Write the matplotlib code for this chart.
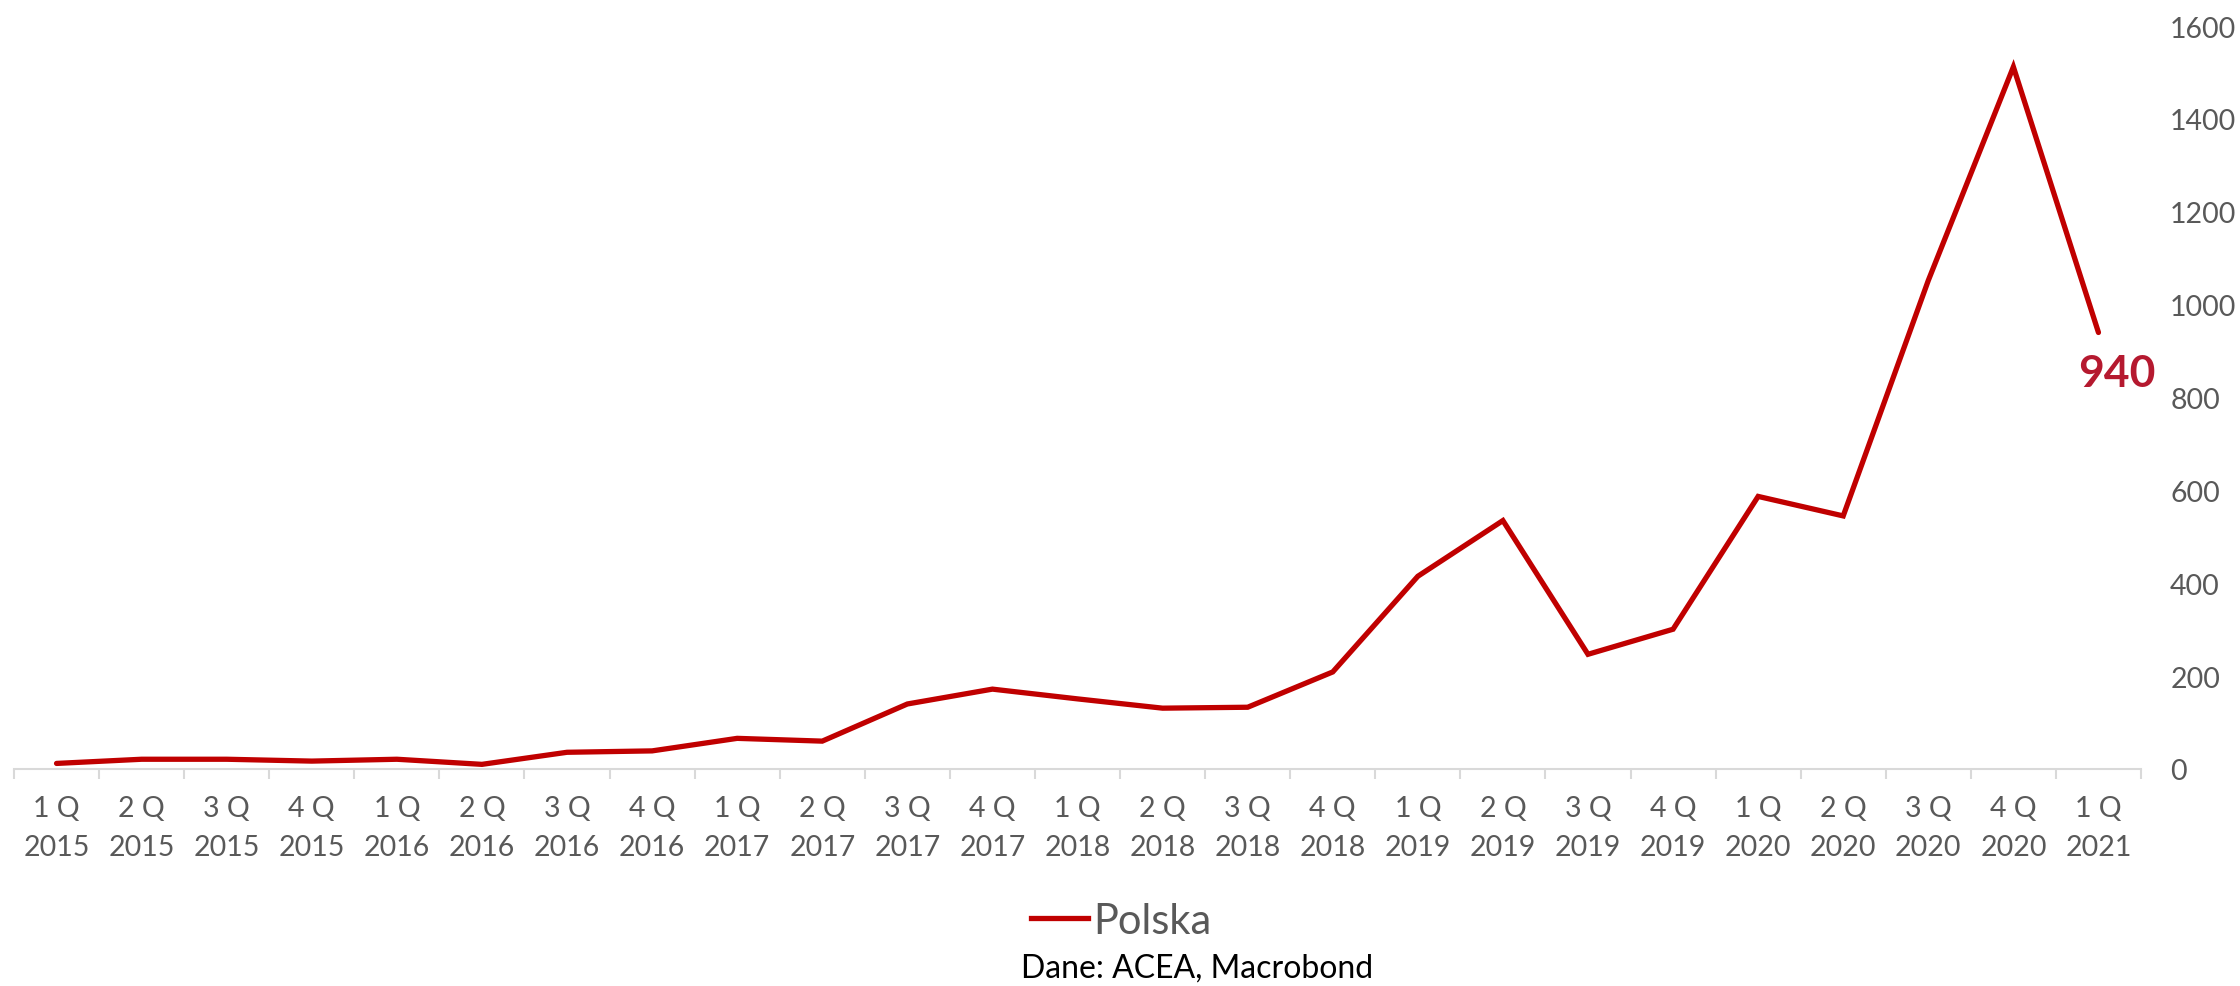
import matplotlib
matplotlib.use("Agg")
import matplotlib.pyplot as plt
from matplotlib.lines import Line2D

quarters = ["1 Q", "2 Q", "3 Q", "4 Q"] * 6 + ["1 Q"]
years = ["2015"] * 4 + ["2016"] * 4 + ["2017"] * 4 + ["2018"] * 4 + ["2019"] * 4 + ["2020"] * 4 + ["2021"]
values = [12, 21, 21, 17, 21, 10, 36, 39, 66, 60, 140, 172, 151, 131, 133,
          209, 415, 535, 247, 301, 587, 545, 1052, 1512, 940]
series_name = "Polska"
last_label = "940"
source = "Dane: ACEA, Macrobond"
yticks = [0, 200, 400, 600, 800, 1000, 1200, 1400, 1600]

plt.rcParams['font.family'] = ['Lato', 'DejaVu Sans']
GRAY = "#595959"
RED = "#C00000"

fig = plt.figure(figsize=(22.4, 9.87), dpi=100)
W, H = 2240, 987
left = 14 / W
right = 2141 / W
bottom = (H - 770) / H
top = (H - 27) / H
ax = fig.add_axes([left, bottom, right - left, top - bottom])

x = list(range(len(values)))
ax.plot(x, values, color=RED, lw=3.8, solid_joinstyle='miter',
        solid_capstyle='round', label=series_name)

ax.set_xlim(-0.5, len(values) - 0.5)
ax.set_ylim(0, 1600)

for s in ['top', 'left', 'right']:
    ax.spines[s].set_visible(False)
ax.spines['bottom'].set_color("#D9D9D9")
ax.spines['bottom'].set_linewidth(1.5)

# major ticks at category boundaries (marks only)
ax.set_xticks([i - 0.5 for i in range(len(values) + 1)])
ax.set_xticklabels([])
ax.tick_params(axis='x', which='major', length=7, width=1.5, color="#D9D9D9", direction='out')
# minor ticks at centers for labels
ax.set_xticks(x, minor=True)
ax.set_xticklabels([f"{q}\n{y}" for q, y in zip(quarters, years)], minor=True,
                   fontsize=20.5, color=GRAY, linespacing=1.6)
ax.tick_params(axis='x', which='minor', length=0, pad=19)

ax.yaxis.tick_right()
ax.set_yticks(yticks)
ax.set_yticklabels([str(v) for v in yticks], fontsize=20.5, color=GRAY, ha='left')
ax.tick_params(axis='y', length=0, pad=21)

# value label below-right of the last point (offset given in pixels)
ax_w_px = (right - left) * W
ax_h_px = (top - bottom) * H
xr = ax.get_xlim()
yr = ax.get_ylim()
dx = 18 * (xr[1] - xr[0]) / ax_w_px
dy = 41 * (yr[1] - yr[0]) / ax_h_px
ax.text(x[-1] + dx, values[-1] - dy, last_label, ha='center', va='center',
        fontsize=32, fontweight='bold', color="#B5192F")

handle = Line2D([], [], color=RED, lw=3.8)
fig.legend([handle], [series_name], loc='center', bbox_to_anchor=(1121 / W, (H - 922) / H),
           frameon=False, fontsize=30, handlelength=1.37, handletextpad=0.12,
           labelcolor=GRAY, borderpad=0)

fig.text(1197 / W, (H - 969) / H, source, ha='center', va='center', fontsize=23, color='black')

fig.savefig("out.png", dpi=100)
